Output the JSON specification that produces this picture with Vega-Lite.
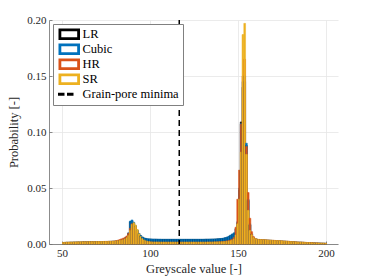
{
"$schema": "https://vega.github.io/schema/vega-lite/v6.json",
"width": 289, "height": 224,
"autosize": "none",
"padding": {"left": 49, "top": 20, "right": 36, "bottom": 36},
"background": "white",
"config": {
  "view": {"stroke": null},
  "font": "Liberation Serif",
  "axis": {"labelFont": "Liberation Serif", "titleFont": "Liberation Serif", "labelFontSize": 11, "titleFontSize": 12.5, "titleFontWeight": "normal", "labelColor": "#262626", "titleColor": "#262626", "gridColor": "#e6e6e6", "gridWidth": 0.8, "domainColor": "#6e6e6e", "domainWidth": 0.8, "tickColor": "#6e6e6e", "tickSize": -3, "tickWidth": 0.8}
},
"datasets": {
"h": [
{"g":50,"SR":0.0014,"HR":0.0013,"Cubic":0.0013,"LR":0.0013},
{"g":51,"SR":0.0015,"HR":0.0014,"Cubic":0.0014,"LR":0.0014},
{"g":52,"SR":0.0016,"HR":0.0015,"Cubic":0.0015,"LR":0.0015},
{"g":53,"SR":0.0016,"HR":0.0015,"Cubic":0.0015,"LR":0.0015},
{"g":54,"SR":0.0017,"HR":0.0016,"Cubic":0.0016,"LR":0.0016},
{"g":55,"SR":0.0017,"HR":0.0016,"Cubic":0.0016,"LR":0.0016},
{"g":56,"SR":0.0018,"HR":0.0017,"Cubic":0.0017,"LR":0.0017},
{"g":57,"SR":0.0018,"HR":0.0017,"Cubic":0.0017,"LR":0.0017},
{"g":58,"SR":0.0019,"HR":0.0018,"Cubic":0.0018,"LR":0.0018},
{"g":59,"SR":0.0019,"HR":0.0018,"Cubic":0.0018,"LR":0.0018},
{"g":60,"SR":0.0019,"HR":0.0018,"Cubic":0.0018,"LR":0.0018},
{"g":61,"SR":0.0020,"HR":0.0019,"Cubic":0.0019,"LR":0.0019},
{"g":62,"SR":0.0020,"HR":0.0019,"Cubic":0.0019,"LR":0.0019},
{"g":63,"SR":0.0020,"HR":0.0019,"Cubic":0.0019,"LR":0.0019},
{"g":64,"SR":0.0020,"HR":0.0019,"Cubic":0.0019,"LR":0.0019},
{"g":65,"SR":0.0021,"HR":0.0020,"Cubic":0.0020,"LR":0.0020},
{"g":66,"SR":0.0021,"HR":0.0020,"Cubic":0.0020,"LR":0.0020},
{"g":67,"SR":0.0021,"HR":0.0020,"Cubic":0.0020,"LR":0.0020},
{"g":68,"SR":0.0021,"HR":0.0020,"Cubic":0.0020,"LR":0.0020},
{"g":69,"SR":0.0022,"HR":0.0021,"Cubic":0.0021,"LR":0.0021},
{"g":70,"SR":0.0022,"HR":0.0021,"Cubic":0.0021,"LR":0.0021},
{"g":71,"SR":0.0022,"HR":0.0021,"Cubic":0.0021,"LR":0.0021},
{"g":72,"SR":0.0022,"HR":0.0022,"Cubic":0.0022,"LR":0.0021},
{"g":73,"SR":0.0023,"HR":0.0022,"Cubic":0.0022,"LR":0.0022},
{"g":74,"SR":0.0023,"HR":0.0023,"Cubic":0.0022,"LR":0.0022},
{"g":75,"SR":0.0023,"HR":0.0023,"Cubic":0.0023,"LR":0.0022},
{"g":76,"SR":0.0024,"HR":0.0024,"Cubic":0.0023,"LR":0.0023},
{"g":77,"SR":0.0024,"HR":0.0024,"Cubic":0.0024,"LR":0.0023},
{"g":78,"SR":0.0025,"HR":0.0025,"Cubic":0.0025,"LR":0.0024},
{"g":79,"SR":0.0026,"HR":0.0027,"Cubic":0.0026,"LR":0.0025},
{"g":80,"SR":0.0027,"HR":0.0030,"Cubic":0.0027,"LR":0.0026},
{"g":81,"SR":0.0029,"HR":0.0034,"Cubic":0.0029,"LR":0.0028},
{"g":82,"SR":0.0031,"HR":0.0040,"Cubic":0.0032,"LR":0.0031},
{"g":83,"SR":0.0034,"HR":0.0046,"Cubic":0.0036,"LR":0.0035},
{"g":84,"SR":0.0038,"HR":0.0052,"Cubic":0.0041,"LR":0.0040},
{"g":85,"SR":0.0044,"HR":0.0060,"Cubic":0.0050,"LR":0.0048},
{"g":86,"SR":0.0055,"HR":0.0072,"Cubic":0.0065,"LR":0.0062},
{"g":87,"SR":0.0075,"HR":0.0095,"Cubic":0.0100,"LR":0.0096},
{"g":88,"SR":0.0120,"HR":0.0140,"Cubic":0.0205,"LR":0.0198},
{"g":89,"SR":0.0175,"HR":0.0180,"Cubic":0.0215,"LR":0.0208},
{"g":90,"SR":0.0190,"HR":0.0175,"Cubic":0.0195,"LR":0.0189},
{"g":91,"SR":0.0170,"HR":0.0150,"Cubic":0.0165,"LR":0.0160},
{"g":92,"SR":0.0130,"HR":0.0112,"Cubic":0.0125,"LR":0.0121},
{"g":93,"SR":0.0092,"HR":0.0080,"Cubic":0.0095,"LR":0.0092},
{"g":94,"SR":0.0066,"HR":0.0058,"Cubic":0.0075,"LR":0.0073},
{"g":95,"SR":0.0049,"HR":0.0043,"Cubic":0.0062,"LR":0.0060},
{"g":96,"SR":0.0037,"HR":0.0033,"Cubic":0.0054,"LR":0.0052},
{"g":97,"SR":0.0029,"HR":0.0027,"Cubic":0.0050,"LR":0.0048},
{"g":98,"SR":0.0024,"HR":0.0022,"Cubic":0.0047,"LR":0.0045},
{"g":99,"SR":0.0021,"HR":0.0020,"Cubic":0.0046,"LR":0.0044},
{"g":100,"SR":0.0019,"HR":0.0019,"Cubic":0.0045,"LR":0.0043},
{"g":101,"SR":0.0018,"HR":0.0018,"Cubic":0.0044,"LR":0.0042},
{"g":102,"SR":0.0018,"HR":0.0018,"Cubic":0.0044,"LR":0.0042},
{"g":103,"SR":0.0018,"HR":0.0018,"Cubic":0.0043,"LR":0.0042},
{"g":104,"SR":0.0018,"HR":0.0018,"Cubic":0.0043,"LR":0.0041},
{"g":105,"SR":0.0017,"HR":0.0017,"Cubic":0.0043,"LR":0.0041},
{"g":106,"SR":0.0017,"HR":0.0017,"Cubic":0.0042,"LR":0.0041},
{"g":107,"SR":0.0017,"HR":0.0017,"Cubic":0.0042,"LR":0.0041},
{"g":108,"SR":0.0017,"HR":0.0017,"Cubic":0.0042,"LR":0.0041},
{"g":109,"SR":0.0017,"HR":0.0017,"Cubic":0.0042,"LR":0.0041},
{"g":110,"SR":0.0017,"HR":0.0017,"Cubic":0.0042,"LR":0.0041},
{"g":111,"SR":0.0017,"HR":0.0017,"Cubic":0.0042,"LR":0.0041},
{"g":112,"SR":0.0017,"HR":0.0017,"Cubic":0.0042,"LR":0.0041},
{"g":113,"SR":0.0017,"HR":0.0017,"Cubic":0.0042,"LR":0.0041},
{"g":114,"SR":0.0017,"HR":0.0017,"Cubic":0.0042,"LR":0.0041},
{"g":115,"SR":0.0017,"HR":0.0017,"Cubic":0.0042,"LR":0.0041},
{"g":116,"SR":0.0017,"HR":0.0017,"Cubic":0.0042,"LR":0.0041},
{"g":117,"SR":0.0017,"HR":0.0017,"Cubic":0.0042,"LR":0.0041},
{"g":118,"SR":0.0017,"HR":0.0017,"Cubic":0.0042,"LR":0.0041},
{"g":119,"SR":0.0017,"HR":0.0017,"Cubic":0.0042,"LR":0.0041},
{"g":120,"SR":0.0017,"HR":0.0017,"Cubic":0.0042,"LR":0.0041},
{"g":121,"SR":0.0017,"HR":0.0017,"Cubic":0.0042,"LR":0.0041},
{"g":122,"SR":0.0017,"HR":0.0017,"Cubic":0.0042,"LR":0.0041},
{"g":123,"SR":0.0017,"HR":0.0017,"Cubic":0.0042,"LR":0.0041},
{"g":124,"SR":0.0017,"HR":0.0017,"Cubic":0.0042,"LR":0.0041},
{"g":125,"SR":0.0017,"HR":0.0017,"Cubic":0.0042,"LR":0.0041},
{"g":126,"SR":0.0017,"HR":0.0017,"Cubic":0.0042,"LR":0.0041},
{"g":127,"SR":0.0017,"HR":0.0017,"Cubic":0.0042,"LR":0.0041},
{"g":128,"SR":0.0017,"HR":0.0017,"Cubic":0.0042,"LR":0.0041},
{"g":129,"SR":0.0017,"HR":0.0017,"Cubic":0.0042,"LR":0.0041},
{"g":130,"SR":0.0017,"HR":0.0017,"Cubic":0.0043,"LR":0.0041},
{"g":131,"SR":0.0017,"HR":0.0017,"Cubic":0.0043,"LR":0.0042},
{"g":132,"SR":0.0018,"HR":0.0018,"Cubic":0.0043,"LR":0.0042},
{"g":133,"SR":0.0018,"HR":0.0018,"Cubic":0.0044,"LR":0.0042},
{"g":134,"SR":0.0018,"HR":0.0018,"Cubic":0.0044,"LR":0.0043},
{"g":135,"SR":0.0018,"HR":0.0018,"Cubic":0.0045,"LR":0.0043},
{"g":136,"SR":0.0019,"HR":0.0019,"Cubic":0.0045,"LR":0.0044},
{"g":137,"SR":0.0019,"HR":0.0019,"Cubic":0.0046,"LR":0.0045},
{"g":138,"SR":0.0019,"HR":0.0020,"Cubic":0.0047,"LR":0.0046},
{"g":139,"SR":0.0020,"HR":0.0021,"Cubic":0.0048,"LR":0.0047},
{"g":140,"SR":0.0020,"HR":0.0022,"Cubic":0.0050,"LR":0.0048},
{"g":141,"SR":0.0021,"HR":0.0023,"Cubic":0.0053,"LR":0.0051},
{"g":142,"SR":0.0022,"HR":0.0025,"Cubic":0.0057,"LR":0.0055},
{"g":143,"SR":0.0024,"HR":0.0028,"Cubic":0.0062,"LR":0.0060},
{"g":144,"SR":0.0026,"HR":0.0032,"Cubic":0.0070,"LR":0.0067},
{"g":145,"SR":0.0029,"HR":0.0037,"Cubic":0.0080,"LR":0.0077},
{"g":146,"SR":0.0034,"HR":0.0045,"Cubic":0.0090,"LR":0.0086},
{"g":147,"SR":0.0045,"HR":0.0060,"Cubic":0.0100,"LR":0.0096},
{"g":148,"SR":0.0080,"HR":0.0150,"Cubic":0.0140,"LR":0.0135},
{"g":149,"SR":0.0180,"HR":0.0400,"Cubic":0.0200,"LR":0.0190},
{"g":150,"SR":0.0400,"HR":0.0660,"Cubic":0.0500,"LR":0.0480},
{"g":151,"SR":0.0820,"HR":0.1070,"Cubic":0.1075,"LR":0.1090},
{"g":152,"SR":0.1870,"HR":0.1500,"Cubic":0.1450,"LR":0.1400},
{"g":153,"SR":0.1970,"HR":0.1650,"Cubic":0.1500,"LR":0.1450},
{"g":154,"SR":0.0800,"HR":0.0870,"Cubic":0.0900,"LR":0.0880},
{"g":155,"SR":0.0300,"HR":0.0460,"Cubic":0.0400,"LR":0.0390},
{"g":156,"SR":0.0120,"HR":0.0230,"Cubic":0.0180,"LR":0.0170},
{"g":157,"SR":0.0082,"HR":0.0110,"Cubic":0.0090,"LR":0.0088},
{"g":158,"SR":0.0058,"HR":0.0066,"Cubic":0.0060,"LR":0.0058},
{"g":159,"SR":0.0048,"HR":0.0050,"Cubic":0.0048,"LR":0.0047},
{"g":160,"SR":0.0043,"HR":0.0043,"Cubic":0.0042,"LR":0.0041},
{"g":161,"SR":0.0041,"HR":0.0041,"Cubic":0.0040,"LR":0.0039},
{"g":162,"SR":0.0040,"HR":0.0040,"Cubic":0.0039,"LR":0.0038},
{"g":163,"SR":0.0039,"HR":0.0039,"Cubic":0.0038,"LR":0.0037},
{"g":164,"SR":0.0038,"HR":0.0038,"Cubic":0.0037,"LR":0.0036},
{"g":165,"SR":0.0037,"HR":0.0037,"Cubic":0.0036,"LR":0.0035},
{"g":166,"SR":0.0036,"HR":0.0036,"Cubic":0.0035,"LR":0.0034},
{"g":167,"SR":0.0035,"HR":0.0035,"Cubic":0.0034,"LR":0.0033},
{"g":168,"SR":0.0034,"HR":0.0034,"Cubic":0.0033,"LR":0.0032},
{"g":169,"SR":0.0033,"HR":0.0033,"Cubic":0.0032,"LR":0.0031},
{"g":170,"SR":0.0032,"HR":0.0032,"Cubic":0.0031,"LR":0.0030},
{"g":171,"SR":0.0031,"HR":0.0031,"Cubic":0.0030,"LR":0.0029},
{"g":172,"SR":0.0030,"HR":0.0030,"Cubic":0.0029,"LR":0.0028},
{"g":173,"SR":0.0029,"HR":0.0029,"Cubic":0.0028,"LR":0.0027},
{"g":174,"SR":0.0028,"HR":0.0028,"Cubic":0.0027,"LR":0.0026},
{"g":175,"SR":0.0027,"HR":0.0027,"Cubic":0.0026,"LR":0.0025},
{"g":176,"SR":0.0026,"HR":0.0026,"Cubic":0.0025,"LR":0.0024},
{"g":177,"SR":0.0025,"HR":0.0025,"Cubic":0.0024,"LR":0.0023},
{"g":178,"SR":0.0024,"HR":0.0024,"Cubic":0.0023,"LR":0.0022},
{"g":179,"SR":0.0022,"HR":0.0022,"Cubic":0.0021,"LR":0.0021},
{"g":180,"SR":0.0021,"HR":0.0021,"Cubic":0.0020,"LR":0.0020},
{"g":181,"SR":0.0020,"HR":0.0020,"Cubic":0.0019,"LR":0.0019},
{"g":182,"SR":0.0019,"HR":0.0019,"Cubic":0.0018,"LR":0.0018},
{"g":183,"SR":0.0018,"HR":0.0018,"Cubic":0.0017,"LR":0.0017},
{"g":184,"SR":0.0017,"HR":0.0017,"Cubic":0.0016,"LR":0.0016},
{"g":185,"SR":0.0017,"HR":0.0017,"Cubic":0.0016,"LR":0.0016},
{"g":186,"SR":0.0016,"HR":0.0016,"Cubic":0.0015,"LR":0.0015},
{"g":187,"SR":0.0015,"HR":0.0015,"Cubic":0.0014,"LR":0.0014},
{"g":188,"SR":0.0014,"HR":0.0014,"Cubic":0.0013,"LR":0.0013},
{"g":189,"SR":0.0013,"HR":0.0013,"Cubic":0.0012,"LR":0.0012},
{"g":190,"SR":0.0013,"HR":0.0013,"Cubic":0.0012,"LR":0.0012},
{"g":191,"SR":0.0012,"HR":0.0012,"Cubic":0.0011,"LR":0.0011},
{"g":192,"SR":0.0011,"HR":0.0011,"Cubic":0.0010,"LR":0.0010},
{"g":193,"SR":0.0010,"HR":0.0010,"Cubic":0.0010,"LR":0.0010},
{"g":194,"SR":0.0010,"HR":0.0010,"Cubic":0.0009,"LR":0.0009},
{"g":195,"SR":0.0009,"HR":0.0009,"Cubic":0.0009,"LR":0.0009},
{"g":196,"SR":0.0008,"HR":0.0008,"Cubic":0.0008,"LR":0.0008},
{"g":197,"SR":0.0008,"HR":0.0008,"Cubic":0.0007,"LR":0.0007},
{"g":198,"SR":0.0007,"HR":0.0007,"Cubic":0.0007,"LR":0.0007},
{"g":199,"SR":0.0006,"HR":0.0006,"Cubic":0.0006,"LR":0.0006}
],
"m": [{"g": 116.6, "s": "Grain-pore minima"}]
},
"layer": [
{
  "data": {"name": "h"},
  "transform": [
    {"fold": ["LR", "Cubic", "HR", "SR"], "as": ["s", "p"]},
    {"calculate": "datum.g + 1", "as": "g2"}
  ],
  "mark": {"type": "bar", "opacity": 1, "binSpacing": 0, "strokeWidth": 0.5},
  "encoding": {
    "x": {"field": "g", "type": "quantitative", "bin": {"binned": true, "step": 1},
      "scale": {"domain": [42.6, 206.8], "nice": false, "zero": false},
      "axis": {"values": [50, 100, 150, 200], "title": "Greyscale value [-]", "labelPadding": 6, "titlePadding": 4, "grid": true, "labelFlush": false}},
    "x2": {"field": "g2"},
    "y": {"field": "p", "type": "quantitative", "stack": null,
      "scale": {"domain": [0, 0.2], "nice": false},
      "axis": {"values": [0, 0.05, 0.1, 0.15, 0.2], "format": ".2f", "title": "Probability [-]", "labelPadding": 6, "titlePadding": 6, "grid": true}},
    "stroke": {"field": "s", "type": "nominal", "legend": null,
      "scale": {"domain": ["LR", "Cubic", "HR", "SR"], "range": ["#000000", "#0072BD", "#D95319", "#EDB120"]}},
    "color": {"field": "s", "type": "nominal",
      "scale": {"domain": ["LR", "Cubic", "HR", "SR", "Grain-pore minima"], "range": ["#000000", "#0072BD", "#D95319", "#EDB120", "#000000"]},
      "legend": {
        "title": null, "orient": "top-left", "offset": 4, "padding": 4,
        "fillColor": "white", "strokeColor": "#808080",
        "labelFont": "Liberation Serif", "labelFontSize": 12.5, "labelColor": "#000000",
        "symbolSize": 100, "symbolOffset": 6, "labelOffset": 7, "rowPadding": -4,
        "symbolType": {"expr": "datum.label === 'Grain-pore minima' ? 'M-2.1,-0.15H-1.1V0.15H-2.1ZM-0.3,-0.15H0.7V0.15H-0.3Z' : 'M-2,-1H2V1H-2ZM-1.74,-0.74V0.74H1.74V-0.74Z'"}
      }
    }
  }
},
{
  "data": {"name": "m"},
  "mark": {"type": "rule", "strokeDash": [6, 4], "strokeWidth": 1.5},
  "encoding": {
    "x": {"field": "g", "type": "quantitative"},
    "color": {"field": "s", "type": "nominal", "legend": null}
  }
}
]
}
